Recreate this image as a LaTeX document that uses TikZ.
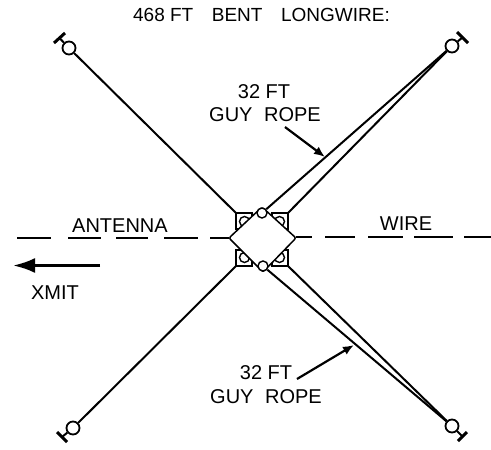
\documentclass[tikz,border=0pt]{standalone}
\usepackage{fontspec}
\setmainfont{Liberation Sans}
\usetikzlibrary{arrows.meta,calc}
\tikzset{
    rope/.style={line width=2pt},
    dashline/.style={line width=1.5pt},
    insulator/.style={circle,draw,line width=1.8pt,minimum size=13pt,inner sep=0pt},
    crossbar/.style={line width=3pt},
    eye/.style={circle,draw,fill=white,line width=1.4pt,minimum size=10pt,inner sep=0pt},
    label/.style={font=\fontsize{20}{20}\selectfont,inner sep=0pt},
    pointer/.style={line width=2.2pt,-{Latex[length=11pt,width=9pt]}},
}

\begin{document}
\begin{tikzpicture}[x=1pt,y=-1pt]
    \useasboundingbox (0,0) rectangle (491,450);

    % hub corners and anchor points
    \coordinate (cnw) at (236,213);
    \coordinate (cne) at (288,213);
    \coordinate (csw) at (236,266);
    \coordinate (cse) at (288,266);
    \coordinate (htop) at (262,207);
    \coordinate (hbot) at (263,272);
    \coordinate (hleft) at (229,238);
    \coordinate (hright) at (296,238);

    % insulators with their cross bars
    \foreach \name/\x/\y/\ax/\ay/\bx/\by in {
        nw/69/48/54/43/65/33,
        ne/452/46/457/32/468/43,
        sw/73/428/57/432/67/442,
        se/452/426/458/441/467/432} {
        \node[insulator] (\name) at (\x,\y) {};
        \coordinate (\name a) at (\ax,\ay);
        \coordinate (\name b) at (\bx,\by);
        \draw[crossbar] (\name a) -- (\name b);
        \draw[rope] (\name) -- ($(\name a)!.5!(\name b)$);
    }

    \draw[rope] (nw) -- (cnw);
    \draw[rope] (sw) -- (csw);
    \draw[rope] (ne) -- (cne);
    \draw[rope] (se) -- (cse);

    % small square plates under the hub
    \foreach \c/\dx/\dy in {cnw/1/1,cne/-1/1,csw/1/-1,cse/-1/-1} {
        \draw[line width=2.6pt] (\c) rectangle ++(16*\dx,16*\dy);
        \draw[line width=1.4pt] ($(\c)+(8.5*\dx,8.5*\dy)$) circle (5pt);
    }

    % hub
    \draw[line width=1.5pt,fill=white,rounded corners=2pt] (hleft) -- (htop) -- (hright) -- (hbot) -- cycle;
    \node[eye] (eyetop) at (262,213) {};
    \node[eye] (eyebot) at (263,266) {};
    \draw[rope] (ne) -- (eyetop);
    \draw[rope] (se) -- (eyebot);

    % antenna wire
    \foreach \a/\b in {17/51,68/101,116/148,164/198,210/229} {
        \draw[dashline] (\a,238) -- (\b,238);
    }
    \foreach \a/\b in {296/312,325/355,368/403,414/453,464/491} {
        \draw[dashline] (\a,237) -- (\b,237);
    }

    \node[label,font=\fontsize{19}{19}\selectfont] (title) at (261.5,15) {468 FT\hspace{.7em} BENT\hspace{.7em} LONGWIRE:};
    \node[label] (antenna) at (120,226) {ANTENNA};
    \node[label] (wire) at (406,224) {WIRE};
    \node[label] (xmit) at (55,293) {XMIT};
    \node[label] (ftup) at (264,92) {32 FT};
    \node[label] (guyup) at (265,115) {GUY\hspace{.3em} ROPE};
    \node[label] (ftdown) at (266,373) {32 FT};
    \node[label] (guydown) at (266,397) {GUY\hspace{.3em} ROPE};

    \coordinate (xmitfrom) at (100,265.5);
    \coordinate (xmitto) at (13,265.5);
    \draw[line width=3pt,-{Latex[length=22pt,width=15pt]}] (xmitfrom) -- (xmitto);
    \coordinate (upfrom) at (285,127);
    \coordinate (upto) at (325,157);
    \draw[pointer] (upfrom) -- (upto);
    \coordinate (downfrom) at (297,379);
    \coordinate (downto) at (354,345);
    \draw[pointer] (downfrom) -- (downto);
\end{tikzpicture}
\end{document}
